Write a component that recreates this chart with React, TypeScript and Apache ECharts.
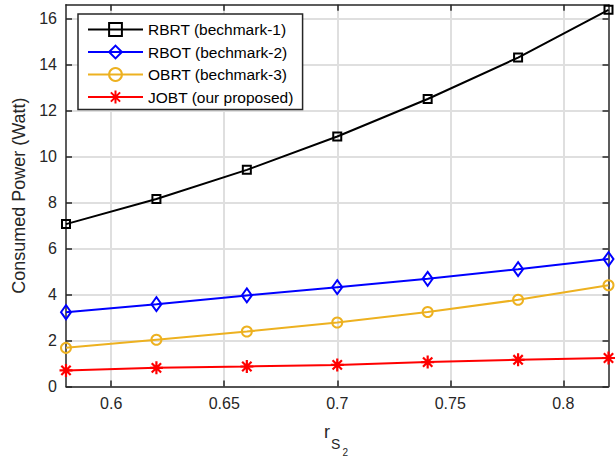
import React, { useEffect, useRef } from "react";
import * as echarts from "echarts";

const xValues = [0.58, 0.62, 0.66, 0.7, 0.74, 0.78, 0.82];
const rbrt = [7.06, 8.15, 9.42, 10.87, 12.5, 14.3, 16.38];
const rbot = [3.23, 3.58, 3.96, 4.32, 4.68, 5.1, 5.54];
const obrt = [1.68, 2.03, 2.39, 2.78, 3.24, 3.77, 4.4];
const jobt = [0.7, 0.81, 0.87, 0.94, 1.06, 1.16, 1.24];
const xTicks = [0.6, 0.65, 0.7, 0.75, 0.8];
const yTicks = [0, 2, 4, 6, 8, 10, 12, 14, 16];
const seriesNames = [
  "RBRT (bechmark-1)",
  "RBOT (bechmark-2)",
  "OBRT (bechmark-3)",
  "JOBT (our proposed)",
];

const FONT = "'Liberation Sans', Arial, Helvetica, sans-serif";
const AX = "#262626";
const STAR = "path://M0,-1L0,1M-1,0L1,0M-0.72,-0.72L0.72,0.72M-0.72,0.72L0.72,-0.72";

export default function App() {
  const ref = useRef<HTMLDivElement>(null);
  useEffect(() => {
    if (!ref.current) return;
    const chart = echarts.init(ref.current, undefined, { renderer: "svg" });
    const mk = (
      name: string,
      vals: number[],
      color: string,
      symbol: string,
      size: number | number[],
      bw: number
    ) => ({
      type: "line",
      name,
      data: xValues.map((x, i) => [x, vals[i]]),
      color,
      symbol,
      symbolSize: size,
      showAllSymbol: true,
      lineStyle: { color, width: 2 },
      itemStyle: { color: "rgba(255,255,255,0)", borderColor: color, borderWidth: bw },
      emphasis: { disabled: true },
      z: 3,
    });
    const baseX = { type: "value", min: 0.58, max: 0.82 };
    const baseY = { type: "value", min: 0, max: 16.6 };
    chart.setOption({
      animation: false,
      backgroundColor: "#ffffff",
      grid: { left: 66, right: 7.5, top: 4.7, bottom: 71.5, containLabel: false },
      legend: {
        left: 78,
        top: 14,
        orient: "vertical",
        data: seriesNames,
        itemWidth: 55,
        itemHeight: 16,
        itemGap: 6.5,
        padding: [7.5, 9, 4.5, 9],
        backgroundColor: "#ffffff",
        borderColor: AX,
        borderWidth: 1.5,
        borderRadius: 0,
        textStyle: { fontFamily: FONT, fontSize: 15.5, color: "#000000" },
        z: 10,
      },
      xAxis: [
        {
          ...baseX,
          position: "bottom",
          axisLine: { show: true, onZero: false, lineStyle: { color: AX, width: 1.5 } },
          axisTick: { show: true, inside: true, length: 6, customValues: xTicks, lineStyle: { color: AX, width: 1.5 } },
          axisLabel: {
            show: true,
            customValues: xTicks,
            margin: 9,
            fontFamily: FONT,
            fontSize: 16,
            color: AX,
            formatter: (v: number) => String(parseFloat(v.toFixed(2))),
          },
          splitLine: { show: true, lineStyle: { color: "#dfdfdf", width: 2 } },
        },
        {
          ...baseX,
          position: "top",
          axisLine: { show: true, onZero: false, lineStyle: { color: AX, width: 1.5 } },
          axisTick: { show: true, inside: true, length: 6, customValues: xTicks, lineStyle: { color: AX, width: 1.5 } },
          axisLabel: { show: false },
          splitLine: { show: false },
        },
      ],
      yAxis: [
        {
          ...baseY,
          position: "left",
          name: "Consumed Power (Watt)",
          nameLocation: "middle",
          nameGap: 29,
          nameTextStyle: { fontFamily: FONT, fontSize: 18, color: AX },
          axisLine: { show: true, onZero: false, lineStyle: { color: AX, width: 1.5 } },
          axisTick: { show: true, inside: true, length: 6, customValues: yTicks, lineStyle: { color: AX, width: 1.5 } },
          axisLabel: {
            show: true,
            customValues: yTicks,
            margin: 9,
            fontFamily: FONT,
            fontSize: 16,
            color: AX,
          },
          splitLine: { show: true, lineStyle: { color: "#dfdfdf", width: 2 } },
        },
        {
          ...baseY,
          position: "right",
          axisLine: { show: true, onZero: false, lineStyle: { color: AX, width: 1.5 } },
          axisTick: { show: true, inside: true, length: 6, customValues: yTicks, lineStyle: { color: AX, width: 1.5 } },
          axisLabel: { show: false },
          splitLine: { show: false },
        },
      ],
      graphic: {
        elements: [
          {
            type: "group",
            id: "xname",
            x: 0,
            y: 0,
            children: [
              {
                type: "text",
                id: "xname-r",
                x: 324,
                y: 423,
                style: { text: "r", fontFamily: FONT, fontSize: 18, fill: AX, verticalAlign: "top", align: "left" },
              },
              {
                type: "text",
                id: "xname-s",
                x: 331,
                y: 437,
                style: { text: "S", fontFamily: FONT, fontSize: 14, fill: AX, verticalAlign: "top", align: "left" },
              },
              {
                type: "text",
                id: "xname-2",
                x: 342.5,
                y: 447,
                style: { text: "2", fontFamily: FONT, fontSize: 10, fill: AX, verticalAlign: "top", align: "left" },
              },
            ],
          },
        ],
      },
      series: [
        mk(seriesNames[0], rbrt, "#000000", "rect", 8, 2),
        mk(seriesNames[1], rbot, "#0000ff", "diamond", [10, 14], 2),
        mk(seriesNames[2], obrt, "#edb120", "circle", 10, 2),
        mk(seriesNames[3], jobt, "#ff0000", STAR, 13, 2.2),
      ],
    });
    return () => chart.dispose();
  }, []);
  return (
    <div
      ref={ref}
      style={{ position: "fixed", left: 0, top: 0, width: 616, height: 458, overflow: "hidden" }}
    />
  );
}
